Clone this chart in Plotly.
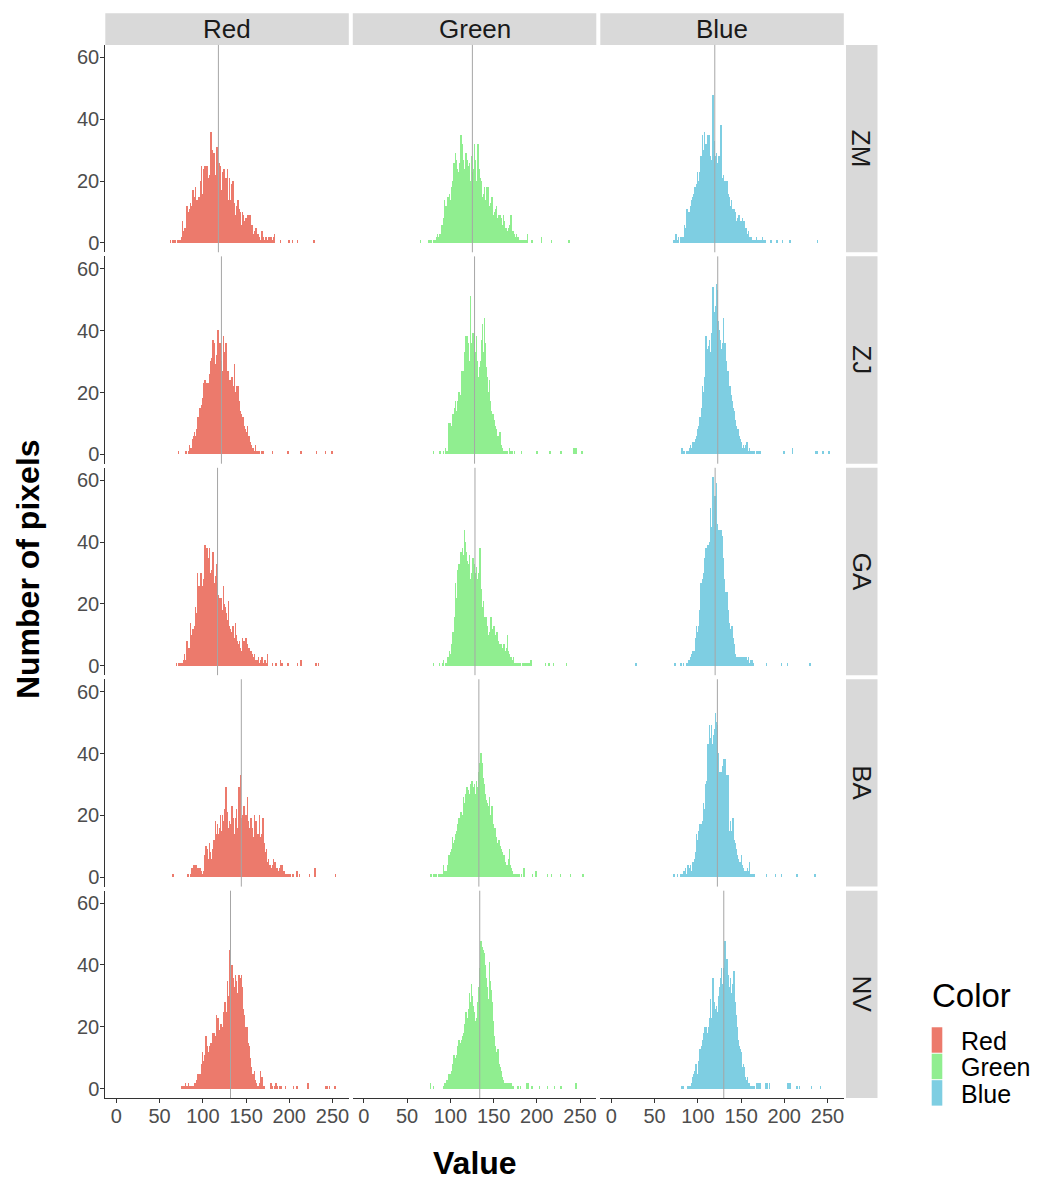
import plotly.graph_objects as go

W, H = 1041, 1183
ROWS = ["ZM", "ZJ", "GA", "BA", "NV"]
COLS = ["Red", "Green", "Blue"]
FILL = {"Red": "#EC7A6C", "Green": "#90EE90", "Blue": "#7ECEE2"}

# ---------------- data: pixel counts per integer value ----------------
ZM_RED_START = 63
ZM_RED = [1,0,0,1,0,1,1,0,1,1, 1,1,1,2,7,4,5,3,5,12, 6,10,11,13,12,9,17,15,10,18,
          14,14,10,15,14,20,25,16,24,23, 25,24,25,25,21,22,23,36,30,21,
          29,28,22,31,31,23,26,22,25,17, 23,21,24,16,21,16,24,14,21,12,
          14,19,20,10,13,9,12,8,14,11, 7,10,6,10,9,7,5,8,6,9,
          7,9,9,4,6,6,3,4,5,5, 2,3,3,2,1,2,4,2,1,0, 2,2,1,2,2,0,2,0,1,2,3]
ZM_RED_TAIL_X = [190, 200, 204, 210, 229]
ZM_RED_TAIL_Y = [1, 1, 1, 1, 1]

ZM_GREEN_START = 75
ZM_GREEN = [1,0,1,1,0,1,1,1,0,2, 3,2,3,3,2,6,5,8,14,10, 12,11,15,13,16,14,18,20,19,26,
            22,29,27,24,20,23,26,35,30,32, 27,24,21,29,27,22,25,26,20,28,
            23,18,24,32,27,20,26,32,24,21, 20,17,15,16,18,14,13,18,16,18,
            12,10,13,15,9,8,10,11,12,7, 8,9,7,9,8,6,9,7,5,4,
            5,4,5,3,6,9,4,2,4,3, 2,3,1,2,1,0,1,1,0,1, 0,1,1,1,3,0]
ZM_GREEN_TAIL_X = [65, 194, 205, 217, 237]
ZM_GREEN_TAIL_Y = [1, 1, 2, 1, 1]

ZM_BLUE_START = 72
ZM_BLUE = [1,0,1,3,1,1,2,0,2,1, 2,2,1,6,5,7,11,8,10,9, 12,14,11,15,16,18,15,19,23,20,
           23,21,28,25,35,30,36,28,32,28, 35,30,35,28,27,30,48,33,26,28,
           29,26,28,24,28,38,22,21,22,18, 20,17,20,16,13,15,12,14,11,10,
           11,9,10,7,8,7,9,6,7,5, 8,4,7,4,5,3,2,4,2,1,
           2,1,1,1,1,1,2,1,0,1, 1,0,1,2,0,1,1]
ZM_BLUE_TAIL_X = [185, 192, 198, 207, 239]
ZM_BLUE_TAIL_Y = [1, 1, 1, 1, 1]

ZJ_RED_START = 72
ZJ_RED = [1,0,0,0,0,0,0,0,0,1, 0,0,1,3,2,1,2,5,6,7, 6,8,10,12,11,15,13,16,18,23,
          20,24,21,23,19,23,26,30,28,31, 37,33,36,29,32,34,40,33,36,31,
          30,27,38,33,29,36,22,27,27,21, 24,20,25,19,22,29,20,22,18,22,
          17,15,14,13,10,12,9,8,6,7, 9,5,6,4,3,2,1,2,1,3, 1,1,0,1,1,0,1,0,1]
ZJ_RED_TAIL_X = [181, 199, 214, 232, 242, 249, 250]
ZJ_RED_TAIL_Y = [1, 1, 1, 1, 1, 1, 1]

ZJ_GREEN_START = 80
ZJ_GREEN = [1,0,0,0,0,0,0,0,1,0, 0,0,1,0,2,1,1,1,10,8, 10,9,13,11,13,15,17,14,17,18,
            20,18,19,27,26,27,33,38,35,38, 34,36,30,51,36,34,39,35,39,33,
            38,30,20,25,28,30,37,42,33,44, 36,28,25,21,20,24,17,14,12,13,
            11,10,9,8,6,5,6,7,4,3, 2,1,1,1,0,1,1,0,2,1, 0,1,0,0,1]
ZJ_GREEN_TAIL_X = [182, 200, 215, 228, 243, 244, 245, 252]
ZJ_GREEN_TAIL_Y = [1, 1, 1, 1, 2, 2, 2, 1]

ZJ_BLUE_START = 82
ZJ_BLUE = [2,0,1,1,0,1,1,0,1,2, 3,2,3,4,3,4,5,6,8,9, 12,10,12,15,22,20,25,30,38,34,
           32,35,37,33,39,41,54,44,46,48, 55,53,43,40,37,34,31,36,44,33,
           36,30,27,25,27,22,22,19,17,15, 14,12,11,9,7,8,6,5,4,3,
           2,3,2,2,3,4,2,1,2,1, 1,1,0,1,1,0,1,0,1,0,1]
ZJ_BLUE_TAIL_X = [200, 210, 237, 238, 245, 252]
ZJ_BLUE_TAIL_Y = [1, 2, 1, 1, 1, 1]

GA_RED_START = 70
GA_RED = [1,0,1,1,0,1,0,1,2,4, 1,2,8,5,6,6,14,9,10,12, 11,13,19,17,30,22,26,25,30,24,
          26,28,34,39,32,38,31,35,38,30, 28,31,37,27,25,29,33,27,23,20,
          22,21,22,18,26,20,19,17,16,15, 21,13,12,10,11,13,11,9,14,10,
          8,6,7,8,6,5,9,7,8,6, 9,5,7,4,6,3,5,4,2,3, 4,2,2,1,2,3,1,2,1,3, 1,0,2,0,1,4]
GA_RED_TAIL_X = [181, 185, 190, 192, 199, 210, 214, 231, 234]
GA_RED_TAIL_Y = [1, 1, 2, 1, 1, 1, 2, 1, 1]

GA_GREEN_START = 80
GA_GREEN = [1,0,0,0,0,0,0,1,0,0, 0,1,2,0,1,0,1,3,2,5, 4,7,6,11,9,16,27,22,31,28,
            33,30,37,35,38,36,44,40,37,34, 33,31,36,28,30,27,35,29,33,30,
            32,28,26,30,38,25,21,19,21,16, 15,16,13,12,10,11,14,16,11,12,
            13,10,10,9,11,8,6,7,5,7, 6,5,7,4,5,6,10,5,4,3, 3,2,2,3,1,1,0,1,0,1,
            0,1,0,1,1,0,1,1,0,1,1,1,0,2]
GA_GREEN_TAIL_X = [210, 214, 219, 234]
GA_GREEN_TAIL_Y = [1, 1, 1, 1]

GA_BLUE_START = 74
GA_BLUE = [1,0,0,0,0,0,1,1,0,0, 1,0,0,0,1,0,2,1,3,4, 3,5,4,5,9,13,11,13,17,18,
           27,22,28,30,35,33,38,36,39,37, 40,51,45,49,61,50,55,52,59,46,
           42,44,40,44,38,42,35,28,24,22, 24,18,15,14,12,10,13,9,7,5,
           4,3,3,2,3,1,3,2,3,1, 3,2,3,0,2,3,1,2,1,2, 1]
GA_BLUE_TAIL_X = [29, 180, 197, 204, 230]
GA_BLUE_TAIL_Y = [1, 1, 1, 1, 1]

BA_RED_START = 83
BA_RED = [1,0,0,1,2,3,1,4,2,4, 4,2,3,1,3,2,2,1,2,7, 6,10,7,9,6,11,8,6,5,9,
          12,10,18,14,17,12,14,16,20,15, 20,17,18,22,29,17,21,16,18,17,
          15,23,18,19,14,19,22,15,16,29, 24,33,19,20,17,23,18,20,16,26,
          18,16,15,19,14,16,13,20,15,18, 12,14,11,20,13,14,10,19,11,8,
          6,9,5,6,3,4,2,3,4,6, 3,5,2,3,1,2,3,4,2,4, 1,2,2,1,1,0,1,1,0,1, 0,1,1]
BA_RED_TAIL_X = [66, 209, 212, 224, 230, 254]
BA_RED_TAIL_Y = [1, 2, 1, 1, 3, 1]

BA_GREEN_START = 77
BA_GREEN = [1,1,0,1,1,0,1,1,0,1, 1,0,1,1,1,4,2,2,2,2, 4,7,5,8,9,13,11,10,12,14,
            15,17,16,19,18,21,19,20,26,24, 26,27,29,26,28,27,30,29,31,28,
            29,30,27,31,26,29,34,37,40,36, 37,32,30,27,25,22,24,23,26,20,
            19,23,17,16,14,16,13,10,11,12, 9,10,9,8,6,7,5,4,3,4,
            6,9,4,3,2,1,0,1,1,1, 1,0,1,1,0,1]
BA_GREEN_TAIL_X = [185, 195, 199, 212, 217, 227, 239, 253]
BA_GREEN_TAIL_Y = [3, 1, 2, 1, 1, 1, 1, 1]

BA_BLUE_START = 73
BA_BLUE = [1,0,0,0,1,0,0,0,1,0, 1,2,2,3,1,1,4,3,2,4, 2,2,5,4,6,8,14,12,15,13,
           17,16,17,18,24,22,26,30,31,43, 40,49,45,49,43,42,46,48,53,50,
           49,40,29,34,31,34,36,38,35,38, 33,30,33,25,15,18,15,14,19,12,
           10,11,9,7,6,5,5,4,7,4, 3,2,2,1,2,3,2,5,0,1, 1,0,1,1]
BA_BLUE_TAIL_X = [180, 190, 197, 215, 236]
BA_BLUE_TAIL_Y = [1, 1, 1, 1, 1]

NV_RED_START = 76
NV_RED = [1,0,1,1,2,0,1,0,2,1, 1,0,1,1,1,2,2,3,4,5, 4,5,5,8,12,9,11,10,17,13,
          14,12,14,15,15,13,18,16,18,17, 24,19,23,18,19,21,21,20,25,22,
          28,25,25,35,30,31,45,38,40,34, 36,33,37,35,31,30,37,35,36,37,
          33,26,24,20,20,18,20,15,14,10, 7,5,4,5,6,3,2,1,1,1, 2,6,2,4,1,1,0]
NV_RED_TAIL_X = [179, 181, 184, 185, 186, 189, 191, 196, 205, 209, 222, 242, 244, 247, 253]
NV_RED_TAIL_Y = [2, 1, 1, 2, 1, 1, 1, 1, 1, 1, 2, 1, 1, 1, 1]

NV_GREEN_START = 77
NV_GREEN = [2,0,0,1,0,0,0,0,0,0, 0,0,0,0,0,1,2,1,2,3, 2,5,4,5,6,8,7,11,10,9,
            11,14,12,16,15,14,16,17,18,21, 20,25,23,22,26,31,28,34,30,27,
            25,23,22,23,25,28,33,39,48,44, 46,45,44,40,36,30,33,29,41,35,
            32,28,22,17,13,14,12,11,13,8, 6,7,6,4,3,2,2,1,2,2, 2,1,2,2,0,1]
NV_GREEN_TAIL_X = [178, 181, 188, 189, 190, 194, 203, 212, 220, 228, 245]
NV_GREEN_TAIL_Y = [1, 1, 2, 2, 2, 1, 1, 1, 1, 1, 2]

NV_BLUE_START = 82
NV_BLUE = [1,0,1,0,0,0,0,1,0,1, 1,2,3,4,5,6,8,7,5,9, 13,11,13,14,16,18,20,17,20,18,
           16,20,23,29,23,31,36,28,24,26, 27,25,27,30,33,36,39,34,39,38,
           48,40,42,37,35,33,36,30,31,34, 38,30,28,24,20,16,14,13,12,9,
           7,8,7,4,2,3,4,2,2,1, 1,1,0,1,1,0, 0,2,2,1,2]
NV_BLUE_TAIL_X = [179, 181, 183, 204, 206, 207, 215, 218, 232, 242]
NV_BLUE_TAIL_Y = [2, 2, 2, 2, 2, 2, 1, 1, 1, 1]

# mean lines (one per row)
MEAN_RED = [118, 121.5, 117, 144.5, 132]
MEAN_GREEN = [125.5, 128, 128.5, 133, 134]
MEAN_BLUE = [119.6, 123, 120, 122.6, 130]

X_TICKS = [0, 50, 100, 150, 200, 250]
Y_TICKS = [0, 20, 40, 60]

PANELS = {
    ("ZM", "Red"): (ZM_RED_START, ZM_RED, ZM_RED_TAIL_X, ZM_RED_TAIL_Y),
    ("ZM", "Green"): (ZM_GREEN_START, ZM_GREEN, ZM_GREEN_TAIL_X, ZM_GREEN_TAIL_Y),
    ("ZM", "Blue"): (ZM_BLUE_START, ZM_BLUE, ZM_BLUE_TAIL_X, ZM_BLUE_TAIL_Y),
    ("ZJ", "Red"): (ZJ_RED_START, ZJ_RED, ZJ_RED_TAIL_X, ZJ_RED_TAIL_Y),
    ("ZJ", "Green"): (ZJ_GREEN_START, ZJ_GREEN, ZJ_GREEN_TAIL_X, ZJ_GREEN_TAIL_Y),
    ("ZJ", "Blue"): (ZJ_BLUE_START, ZJ_BLUE, ZJ_BLUE_TAIL_X, ZJ_BLUE_TAIL_Y),
    ("GA", "Red"): (GA_RED_START, GA_RED, GA_RED_TAIL_X, GA_RED_TAIL_Y),
    ("GA", "Green"): (GA_GREEN_START, GA_GREEN, GA_GREEN_TAIL_X, GA_GREEN_TAIL_Y),
    ("GA", "Blue"): (GA_BLUE_START, GA_BLUE, GA_BLUE_TAIL_X, GA_BLUE_TAIL_Y),
    ("BA", "Red"): (BA_RED_START, BA_RED, BA_RED_TAIL_X, BA_RED_TAIL_Y),
    ("BA", "Green"): (BA_GREEN_START, BA_GREEN, BA_GREEN_TAIL_X, BA_GREEN_TAIL_Y),
    ("BA", "Blue"): (BA_BLUE_START, BA_BLUE, BA_BLUE_TAIL_X, BA_BLUE_TAIL_Y),
    ("NV", "Red"): (NV_RED_START, NV_RED, NV_RED_TAIL_X, NV_RED_TAIL_Y),
    ("NV", "Green"): (NV_GREEN_START, NV_GREEN, NV_GREEN_TAIL_X, NV_GREEN_TAIL_Y),
    ("NV", "Blue"): (NV_BLUE_START, NV_BLUE, NV_BLUE_TAIL_X, NV_BLUE_TAIL_Y),
}
MEANS = {"Red": MEAN_RED, "Green": MEAN_GREEN, "Blue": MEAN_BLUE}

# ---------------- layout geometry (pixels) ----------------
COL_LEFT = [105.3, 352.8, 600.3]
COL_W = 243.5
STRIP_TOP, STRIP_BOT = 13.3, 45.0
ROW_TOP0, ROW_STEP, ROW_H = 45.0, 211.8, 207.7
RSTRIP_L, RSTRIP_R = 846.0, 877.5
X_RANGE = [-12.8, 268.8]
Y_RANGE = [-3.0, 64.0]

FONT = "Liberation Sans, Arial, Helvetica, sans-serif"
TICK_FONT = dict(family=FONT, size=20, color="#4D4D4D")


def px(x):
    return x / W


def py(y):
    return 1 - y / H


fig = go.Figure()
layout = {}
shapes = []
annotations = []

n = 0
for ri, row in enumerate(ROWS):
    top = ROW_TOP0 + ri * ROW_STEP
    bot = top + ROW_H
    for ci, col in enumerate(COLS):
        n += 1
        xa = "x" if n == 1 else f"x{n}"
        ya = "y" if n == 1 else f"y{n}"
        xkey = "xaxis" if n == 1 else f"xaxis{n}"
        ykey = "yaxis" if n == 1 else f"yaxis{n}"
        left = COL_LEFT[ci]
        right = left + COL_W

        start, counts, tx, ty = PANELS[(row, col)]
        xs = [start + i for i, c in enumerate(counts) if c > 0] + list(tx)
        ys = [c for c in counts if c > 0] + list(ty)
        fig.add_trace(go.Bar(x=xs, y=ys, width=0.55, xaxis=xa, yaxis=ya,
                             marker=dict(color=FILL[col], line=dict(width=0)),
                             showlegend=False, hoverinfo="x+y"))

        bottom_row = ri == len(ROWS) - 1
        first_col = ci == 0
        layout[xkey] = dict(
            domain=[px(left), px(right)], anchor=ya, range=X_RANGE,
            showgrid=False, zeroline=False,
            tickvals=X_TICKS, showticklabels=bottom_row,
            ticks="outside" if bottom_row else "", ticklen=4, tickcolor="#333333",
            showline=bottom_row, linecolor="#333333", linewidth=1.1,
            tickfont=TICK_FONT, fixedrange=True, ticklabelstandoff=-4,
        )
        layout[ykey] = dict(
            domain=[py(bot), py(top)], anchor=xa, range=Y_RANGE,
            showgrid=False, zeroline=False,
            tickvals=Y_TICKS, showticklabels=first_col,
            ticks="outside" if first_col else "", ticklen=4, tickcolor="#333333",
            showline=first_col, linecolor="#333333", linewidth=1.1,
            tickfont=TICK_FONT, fixedrange=True, ticklabelstandoff=-3,
        )
        # mean line
        shapes.append(dict(type="line", xref=xa, yref=f"{ya} domain",
                           x0=MEANS[col][ri], x1=MEANS[col][ri], y0=0, y1=1,
                           line=dict(color="#A6A6A6", width=1)))

        # top strips
        if ri == 0:
            shapes.append(dict(type="rect", xref="paper", yref="paper",
                               x0=px(left), x1=px(right), y0=py(STRIP_BOT), y1=py(STRIP_TOP),
                               fillcolor="#D9D9D9", line=dict(width=0), layer="below"))
            annotations.append(dict(text=col, xref="paper", yref="paper",
                                    x=px((left + right) / 2), y=py((STRIP_TOP + STRIP_BOT) / 2),
                                    showarrow=False, xanchor="center", yanchor="middle",
                                    font=dict(family=FONT, size=26, color="#1A1A1A")))
    # right strips
    shapes.append(dict(type="rect", xref="paper", yref="paper",
                       x0=px(RSTRIP_L), x1=px(RSTRIP_R), y0=py(bot), y1=py(top),
                       fillcolor="#D9D9D9", line=dict(width=0), layer="below"))
    annotations.append(dict(text=row, xref="paper", yref="paper",
                            x=px((RSTRIP_L + RSTRIP_R) / 2), y=py((top + bot) / 2),
                            textangle=90, showarrow=False, xanchor="center", yanchor="middle",
                            font=dict(family=FONT, size=26, color="#1A1A1A")))

# axis titles
annotations.append(dict(text="<b>Number of pixels</b>", xref="paper", yref="paper",
                        x=px(28), y=py(570), textangle=-90, showarrow=False,
                        xanchor="center", yanchor="middle",
                        font=dict(family=FONT, size=32, color="black")))
annotations.append(dict(text="<b>Value</b>", xref="paper", yref="paper",
                        x=px(475), y=py(1165), showarrow=False,
                        xanchor="center", yanchor="middle",
                        font=dict(family=FONT, size=32, color="black")))

# legend (drawn manually, ggplot style)
annotations.append(dict(text="Color", xref="paper", yref="paper",
                        x=px(930), y=py(997), showarrow=False,
                        xanchor="left", yanchor="middle",
                        font=dict(family=FONT, size=33, color="black")))
key_tops = [1029.0, 1055.5, 1082.0]
for k, col in enumerate(COLS):
    t = key_tops[k]
    shapes.append(dict(type="rect", xref="paper", yref="paper",
                       x0=px(931.7), x1=px(942.3), y0=py(t + 25.5), y1=py(t),
                       fillcolor=FILL[col], line=dict(width=0)))
    annotations.append(dict(text=col, xref="paper", yref="paper",
                            x=px(959), y=py(t + 13.5), showarrow=False,
                            xanchor="left", yanchor="middle",
                            font=dict(family=FONT, size=25, color="black")))

fig.update_layout(
    width=W, height=H, margin=dict(l=0, r=0, t=0, b=0),
    paper_bgcolor="white", plot_bgcolor="white",
    showlegend=False, bargap=0, barmode="overlay",
    shapes=shapes, annotations=annotations,
    **layout,
)

fig.write_html("out.html", config={"displayModeBar": False},
               post_script="document.body.style.margin='0';document.body.style.padding='0';")
